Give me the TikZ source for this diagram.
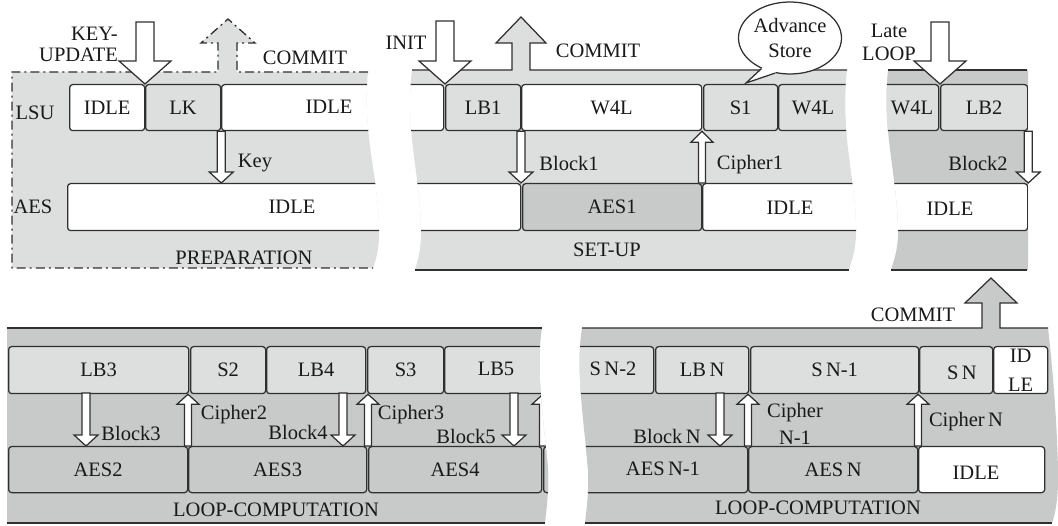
\documentclass[tikz,border=0pt]{standalone}
\usepackage{fontspec}
\setmainfont{Liberation Serif}
\usetikzlibrary{calc,shapes.geometric}

\definecolor{lightpanel}{RGB}{221,222,222}
\definecolor{darkpanel}{RGB}{200,201,201}
\definecolor{ink}{RGB}{48,48,48}

% vertical block arrows: style, tail, tip, shaft half-width, head half-width, head length
\newcommand\arrowdown[6]{\path[#1] let \p1=(#2), \p2=(#3) in
  (\x1-#4pt,\y1) -- (\x1-#4pt,\y2+#6pt) -- (\x1-#5pt,\y2+#6pt) -- (\x1,\y2)
  -- (\x1+#5pt,\y2+#6pt) -- (\x1+#4pt,\y2+#6pt) -- (\x1+#4pt,\y1) -- cycle;}
\newcommand\arrowup[6]{\path[#1] let \p1=(#2), \p2=(#3) in
  (\x1-#4pt,\y1) -- (\x1-#4pt,\y2-#6pt) -- (\x1-#5pt,\y2-#6pt) -- (\x1,\y2)
  -- (\x1+#5pt,\y2-#6pt) -- (\x1+#4pt,\y2-#6pt) -- (\x1+#4pt,\y1) -- cycle;}

% outlines of the five phase strips (torn sides are curves)
\def\panelprep{(12,72) -- (218,72) -- (218,43) -- (201,43) -- (228,19) -- (255,43) -- (237,43) -- (237,72) -- (368,72) .. controls (362,130) and (377,170) .. (379,225) .. controls (380,250) and (375,262) .. (373,268) -- (12,268) -- cycle}
\def\panelsetup{(412,70) -- (512,70) -- (512,43) -- (496,43) -- (521,17) -- (546,43) -- (530,43) -- (530,70) -- (847,70) .. controls (840,130) and (854,170) .. (856,225) .. controls (857,250) and (851,262) .. (849,270) -- (415,270) .. controls (417,262) and (422,250) .. (421,225) .. controls (419,170) and (405,130) .. (412,70) -- cycle}
\def\panellate{(888,70) -- (1028,70) -- (1028,270) -- (891,270) .. controls (893,262) and (899,250) .. (898,225) .. controls (896,170) and (882,130) .. (888,70) -- cycle}
\def\panelloopA{(7,328) -- (542,328) .. controls (535,370) and (545,430) .. (548,470) .. controls (549,495) and (546,512) .. (545,523) -- (7,523) -- cycle}
\def\panelloopB{(582,328) -- (982,328) -- (982,303) -- (965,303) -- (991,278) -- (1017,303) -- (1000,303) -- (1000,328) -- (1048,328) .. controls (1054,380) and (1058,440) .. (1058,480) .. controls (1058,500) and (1055,515) .. (1052,523) -- (585,523) .. controls (586,512) and (589,495) .. (588,470) .. controls (585,430) and (575,370) .. (582,328) -- cycle}

\begin{document}
\begin{tikzpicture}[x=1pt,y=-1pt,
  every node/.style={font=\fontsize{20.5}{23}\selectfont, inner sep=0pt, text={rgb,255:red,25;green,25;blue,25}},
  box/.style={draw=ink, line width=1.25pt, rounded corners=3pt, anchor=north west, inner sep=0pt},
  lsu/.style={box, minimum height=46},
  aesrow/.style={box, minimum height=47},
  rim/.style={draw=ink, line width=1.25pt},
  dashdot/.style={draw=ink, line width=1.3pt, dash pattern=on 9pt off 4pt on 2pt off 4pt},
  hollow/.style={draw=ink, line width=1.25pt, fill=white, line join=miter},
]
\useasboundingbox (0,0) rectangle (1058,526);

% ---- strip backgrounds
\fill[lightpanel] \panelprep;
\fill[lightpanel] \panelsetup;
\fill[darkpanel] \panellate;
\fill[darkpanel] \panelloopA;
\fill[darkpanel] \panelloopB;

% ---- PREPARATION
\begin{scope}
\clip \panelprep;
\node[lsu, fill=white, minimum width=75] (prepidle) at (69,84) {IDLE};
\node[lsu, fill=lightpanel, minimum width=75] (lk) at (145,84) {LK};
\node[lsu, fill=white, minimum width=200] (prepidleB) at (221,84) {};
\node[aesrow, fill=white, minimum width=340] (prepaes) at (67,183) {};
\end{scope}
\draw[dashdot] (368,72) -- (237,72) -- (237,43) -- (255,43) -- (228,19) -- (201,43) -- (218,43) -- (218,72) -- (12,72) -- (12,268) -- (373,268);

% ---- SET-UP
\begin{scope}
\clip \panelsetup;
\node[lsu, fill=white, minimum width=73] (setw) at (370,84) {};
\node[lsu, fill=lightpanel, minimum width=75] (lb1) at (445,84) {LB1};
\node[lsu, fill=white, minimum width=180] (w4l) at (521,84) {W4L};
\node[lsu, fill=lightpanel, minimum width=74] (s1) at (703,84) {S1};
\node[lsu, fill=lightpanel, minimum width=100] (w4lb) at (778,84) {};
\node[aesrow, fill=white, minimum width=150] (setaesw) at (370,183) {};
\node[aesrow, fill=darkpanel, minimum width=179] (aes1) at (522,183) {AES1};
\node[aesrow, fill=white, minimum width=170] (setidle) at (702,183) {};
\end{scope}
\draw[rim] (412,70) -- (512,70) -- (512,43) -- (496,43) -- (521,17) -- (546,43) -- (530,43) -- (530,70) -- (847,70);
\draw[rim] (415,270) -- (849,270);

% ---- late loop
\begin{scope}
\clip \panellate;
\node[lsu, fill=lightpanel, minimum width=78] (w4lc) at (860,84) {};
\node[lsu, fill=lightpanel, minimum width=87] (lb2) at (940,84) {LB2};
\node[aesrow, fill=white, minimum width=167] (lateidle) at (860,183) {};
\end{scope}
\draw[rim] (888,70) -- (1027,70);
\draw[rim] (891,270) -- (1027,270);

% ---- LOOP-COMPUTATION, first part
\begin{scope}
\clip \panelloopA;
\node[box, minimum height=47, fill=lightpanel, minimum width=180] (lb3) at (8,346) {LB3};
\node[box, minimum height=47, fill=lightpanel, minimum width=75] (s2) at (190,346) {S2};
\node[box, minimum height=47, fill=lightpanel, minimum width=99] (lb4) at (266,346) {LB4};
\node[box, minimum height=47, fill=lightpanel, minimum width=76] (s3) at (367,346) {S3};
\node[box, minimum height=47, fill=lightpanel, minimum width=150] (lb5) at (444,346) {};
\node[box, minimum height=46, fill=darkpanel, minimum width=179] (aes2) at (8,446) {AES2};
\node[box, minimum height=46, fill=darkpanel, minimum width=178] (aes3) at (188,446) {AES3};
\node[box, minimum height=46, fill=darkpanel, minimum width=173] (aes4) at (368,446) {AES4};
\node[box, minimum height=46, fill=darkpanel, minimum width=50] (aes5) at (543,446) {};
\arrowup{hollow}{aes5.north west}{aes5.north west |- lb5.south}{3.5}{11}{10}
\end{scope}
\draw[rim] (7,328) -- (542,328);
\draw[rim] (7,523) -- (545,523);

% ---- LOOP-COMPUTATION, last part
\begin{scope}
\clip \panelloopB;
\node[box, minimum height=47, fill=lightpanel, minimum width=113] (sn2) at (540,346) {};
\node[box, minimum height=47, fill=lightpanel, minimum width=93] (lbn) at (655,346) {LB\,N};
\node[box, minimum height=47, fill=lightpanel, minimum width=168] (sn1) at (750,346) {S\,N-1};
\node[box, minimum height=47, fill=lightpanel, minimum width=73] (sn) at (919,346) {};
\node[box, minimum height=47, fill=white, minimum width=54, align=center, font=\fontsize{20.5}{29}\selectfont] (idlefin) at (993,346) {ID\\LE};
\node[box, minimum height=46, fill=darkpanel, minimum width=207] (aesn1) at (540,446) {};
\node[box, minimum height=46, fill=darkpanel, minimum width=169] (aesn) at (748,446) {AES\,N};
\node[box, minimum height=46, fill=white, minimum width=126] (idleaes) at (918,446) {};
\end{scope}
\draw[rim] (582,328) -- (982,328) -- (982,303) -- (965,303) -- (991,278) -- (1017,303) -- (1000,303) -- (1000,328) -- (1048,328);
\draw[rim] (585,523) -- (1052,523);

% ---- arrow end points
\coordinate (keytail) at (145,22);
\coordinate (inittail) at (445,21);
\coordinate (latetail) at (940,22);
\coordinate (b3) at (86,393);
\coordinate (b4) at (343,393);
\coordinate (b5) at (514,393);
\coordinate (bn) at (720,393);

% ---- big event arrows
\arrowdown{hollow}{keytail}{lk.north west}{9}{26}{23}
\arrowdown{hollow}{inittail}{lb1.north west}{9}{26}{23}
\arrowdown{hollow}{latetail}{lb2.north west}{9}{26}{23}

% ---- data transfer arrows
\arrowdown{hollow}{lk.south east}{lk.south east |- prepaes.north}{4}{12}{11}
\arrowdown{hollow}{w4l.south west}{w4l.south west |- aes1.north}{4}{12}{11}
\arrowup{hollow}{setidle.north west}{setidle.north west |- s1.south}{3.5}{11}{11}
\arrowdown{hollow}{lb2.south east}{lb2.south east |- lateidle.north}{4}{12}{11}
\arrowdown{hollow}{b3}{b3 |- aes2.north}{4}{12}{11}
\arrowup{hollow}{aes3.north west}{aes3.north west |- lb3.south}{3.5}{11}{10}
\arrowdown{hollow}{b4}{b4 |- aes3.north}{4}{12}{11}
\arrowup{hollow}{aes4.north west}{aes4.north west |- s3.south}{3.5}{11}{10}
\arrowdown{hollow}{b5}{b5 |- aes4.north}{4}{12}{11}
\arrowdown{hollow}{bn}{bn |- aesn.north}{4}{12}{11}
\arrowup{hollow}{aesn.north west}{aesn.north west |- sn1.south}{3.5}{11}{10}
\arrowup{hollow}{idleaes.north west}{idleaes.north west |- sn.south}{3.5}{11}{10}

% ---- labels
\node (lsulbl) at (35,113) {LSU};
\node (aeslbl) at (33,207) {AES};
\node[align=right, anchor=east, font=\fontsize{20.5}{21}\selectfont] (keyupd) at (118,44) {KEY-\\UPDATE};
\node (commitA) at (305,58) {COMMIT};
\node (prepidleBt) at (329,107) {IDLE};
\node (keylbl) at (255,163) {Key};
\node (prepaest) at (292,207) {IDLE};
\node (preplbl) at (244,258) {PREPARATION};

\node (initlbl) at (406,43) {INIT};
\node (commitB) at (598,51) {COMMIT};
\node (w4lbt) at (813,108) {W4L};
\node (block1) at (569,163) {Block1};
\node (cipher1) at (750,165) {Cipher1};
\node (setidlet) at (790,208) {IDLE};
\node (setlbl) at (607,250) {SET-UP};

\node[align=center] (latelbl) at (889,42) {Late\\LOOP};
\node (w4lct) at (912,108) {W4L};
\node (block2) at (978,163) {Block2};
\node (lateidlet) at (950,209) {IDLE};

\node (lb5t) at (496,369) {LB5};
\node (block3) at (131,433) {Block3};
\node (cipher2) at (234,415) {Cipher2};
\node (block4) at (298,432) {Block4};
\node (cipher3) at (411,415) {Cipher3};
\node (block5) at (466,436) {Block5};
\node (loopA) at (276,510) {LOOP-COMPUTATION};

\node (commitC) at (913,315) {COMMIT};
\node (sn2t) at (613,369) {S\,N-2};
\node (snt) at (962,373) {S\,N};
\node (blockn) at (667,436) {Block\,N};
\node[align=center, font=\fontsize{20.5}{27}\selectfont] (ciphern1) at (795,424) {Cipher\\N-1};
\node (ciphern) at (966,422) {Cipher\,N};
\node (aesn1t) at (663,469) {AES\,N-1};
\node (idleaest) at (976,473) {IDLE};
\node (loopB) at (818,508) {LOOP-COMPUTATION};

% ---- speech bubble
\node[ellipse, draw=ink, line width=1.25pt, fill=white, minimum width=95, minimum height=72, align=center, font=\fontsize{20.5}{25}\selectfont] (bubble) at (790,38) {Advance\\Store};
\coordinate (tailtip) at (746,83);
\fill[white] (bubble.227) -- (tailtip) -- (bubble.247) -- ($(bubble.247)!0.12!(bubble.center)$) -- ($(bubble.237)!0.12!(bubble.center)$) -- ($(bubble.227)!0.12!(bubble.center)$) -- cycle;
\draw[draw=ink, line width=1.25pt, line join=miter] (bubble.227) -- (tailtip) -- (bubble.247);
\end{tikzpicture}
\end{document}
